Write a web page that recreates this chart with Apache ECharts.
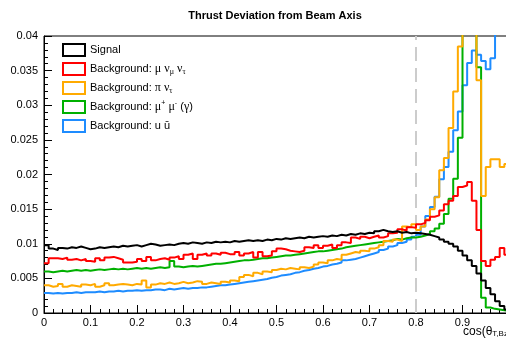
<!DOCTYPE html>
<html><head><meta charset="utf-8">
<script src="https://cdn.jsdelivr.net/npm/echarts@6/dist/echarts.min.js"></script>
<style>html,body{margin:0;padding:0;background:#fff;overflow:hidden}#c{width:506px;height:338px}</style>
</head><body><div id="c"></div>
<script>
// bin edges: 100 bins of width 0.01 from 0 to 1
const binWidth = 0.01;
const signal = [0.0098,0.0093,0.0091,0.0094,0.0093,0.0095,0.0094,0.0096,0.0094,0.0092,
0.0093,0.0095,0.0094,0.0095,0.0096,0.0095,0.0097,0.0096,0.0097,0.0098,
0.0096,0.0098,0.0100,0.0099,0.0097,0.0098,0.0099,0.0098,0.0100,0.0101,
0.0100,0.0102,0.0101,0.0100,0.0102,0.0101,0.0103,0.0102,0.0103,0.0102,
0.0104,0.0103,0.0104,0.0105,0.0104,0.0105,0.0104,0.0106,0.0105,0.0107,
0.0106,0.0108,0.0107,0.0108,0.0109,0.0108,0.0110,0.0109,0.0110,0.0111,
0.0110,0.0112,0.0111,0.0113,0.0112,0.0114,0.0113,0.0115,0.0114,0.0116,
0.0115,0.0118,0.0120,0.0118,0.0117,0.0118,0.0116,0.0117,0.0115,0.0116,
0.0115,0.0114,0.0113,0.0111,0.0109,0.0106,0.0103,0.0100,0.0096,0.0090,
0.0083,0.0076,0.0068,0.0057,0.0047,0.0036,0.0027,0.0017,0.0010,0.0005];
const bgMuNuNu = [0.0072,0.0079,0.0079,0.0078,0.0080,0.0077,0.0078,0.0076,0.0078,0.0075,
0.0074,0.0079,0.0076,0.0080,0.0081,0.0079,0.0077,0.0073,0.0073,0.0074,
0.0078,0.0075,0.0081,0.0076,0.0078,0.0079,0.0077,0.0080,0.0082,0.0078,
0.0084,0.0086,0.0078,0.0084,0.0086,0.0083,0.0086,0.0084,0.0087,0.0085,
0.0085,0.0088,0.0083,0.0086,0.0088,0.0080,0.0088,0.0082,0.0083,0.0089,
0.0093,0.0092,0.0090,0.0089,0.0088,0.0090,0.0095,0.0094,0.0098,0.0094,
0.0097,0.0099,0.0094,0.0098,0.0102,0.0101,0.0109,0.0107,0.0110,0.0108,
0.0110,0.0112,0.0109,0.0111,0.0115,0.0116,0.0121,0.0119,0.0124,0.0123,
0.0128,0.0130,0.0134,0.0139,0.0141,0.0148,0.0157,0.0162,0.0169,0.0182,
0.0184,0.0189,0.0162,0.0120,0.0075,0.0068,0.0077,0.0081,0.0094,0.0084];
const bgPiNu = [0.0040,0.0038,0.0039,0.0042,0.0038,0.0040,0.0039,0.0038,0.0041,0.0040,
0.0042,0.0038,0.0040,0.0043,0.0040,0.0041,0.0042,0.0041,0.0040,0.0042,
0.0041,0.0047,0.0037,0.0041,0.0043,0.0042,0.0044,0.0042,0.0043,0.0045,
0.0043,0.0044,0.0046,0.0045,0.0042,0.0044,0.0043,0.0042,0.0045,0.0044,
0.0047,0.0046,0.0052,0.0055,0.0053,0.0058,0.0056,0.0060,0.0059,0.0062,
0.0064,0.0063,0.0065,0.0064,0.0063,0.0066,0.0065,0.0067,0.0070,0.0073,
0.0072,0.0076,0.0078,0.0077,0.0084,0.0086,0.0088,0.0087,0.0090,0.0089,
0.0093,0.0095,0.0098,0.0104,0.0103,0.0106,0.0104,0.0125,0.0124,0.0128,
0.0120,0.0125,0.0135,0.0150,0.0167,0.0206,0.0224,0.0267,0.0320,0.0385,
0.0450,0.0450,0.0450,0.0336,0.0169,0.0211,0.0222,0.0222,0.0211,0.0215];
const bgMuMu = [0.0060,0.0059,0.0060,0.0061,0.0060,0.0061,0.0062,0.0061,0.0062,0.0061,
0.0062,0.0063,0.0062,0.0063,0.0064,0.0063,0.0064,0.0063,0.0064,0.0065,
0.0064,0.0065,0.0064,0.0065,0.0066,0.0065,0.0066,0.0075,0.0067,0.0066,
0.0067,0.0068,0.0067,0.0068,0.0069,0.0070,0.0071,0.0071,0.0072,0.0073,
0.0074,0.0075,0.0076,0.0076,0.0077,0.0078,0.0079,0.0079,0.0080,0.0081,
0.0082,0.0083,0.0083,0.0084,0.0085,0.0086,0.0087,0.0088,0.0089,0.0089,
0.0090,0.0091,0.0092,0.0093,0.0095,0.0096,0.0097,0.0098,0.0099,0.0100,
0.0101,0.0102,0.0103,0.0104,0.0105,0.0107,0.0106,0.0108,0.0109,0.0109,
0.0110,0.0112,0.0114,0.0118,0.0122,0.0129,0.0143,0.0165,0.0194,0.0253,
0.0450,0.0450,0.0450,0.0355,0.0022,0.0008,0.0006,0.0005,0.0004,0.0003];
const bgUU = [0.0029,0.0028,0.0029,0.0028,0.0029,0.0029,0.0030,0.0029,0.0030,0.0030,
0.0030,0.0031,0.0030,0.0031,0.0031,0.0032,0.0031,0.0032,0.0032,0.0033,
0.0032,0.0033,0.0033,0.0034,0.0034,0.0033,0.0035,0.0034,0.0035,0.0036,
0.0035,0.0036,0.0036,0.0037,0.0037,0.0038,0.0039,0.0040,0.0040,0.0041,
0.0042,0.0043,0.0044,0.0045,0.0046,0.0047,0.0048,0.0049,0.0051,0.0052,
0.0054,0.0055,0.0056,0.0058,0.0059,0.0061,0.0062,0.0064,0.0065,0.0067,
0.0068,0.0070,0.0071,0.0073,0.0076,0.0077,0.0078,0.0080,0.0082,0.0084,
0.0086,0.0088,0.0091,0.0093,0.0096,0.0098,0.0101,0.0103,0.0106,0.0110,
0.0113,0.0125,0.0140,0.0153,0.0168,0.0193,0.0211,0.0233,0.0264,0.0291,
0.0329,0.0361,0.0379,0.0373,0.0364,0.0352,0.0368,0.0450,0.0450,0.0450];
const cutValue = 0.8;
const xTicks = ['0','0.1','0.2','0.3','0.4','0.5','0.6','0.7','0.8','0.9'];

const names = ['Signal','Background: mununu','Background: pinu','Background: mumu','Background: uu'];
const labels = {
  'Signal': 'Signal',
  'Background: mununu': 'Background: {g|μ} {g|ν}{sub|μ} {g|ν}{sub|τ}',
  'Background: pinu': 'Background: {g|π} {g|ν}{sub|τ}',
  'Background: mumu': 'Background: {g|μ}{sup|+} {g|μ}{sup|-} ({g|γ})',
  'Background: uu': 'Background: u ū'
};
const colors = ['#000000','#ff0000','#ffaa00','#00b000','#1e8cff'];
const datasets = [signal, bgMuNuNu, bgPiNu, bgMuMu, bgUU];

function toSteps(vals){
  const pts = vals.map((v,i)=>[+(i*binWidth).toFixed(2), v]);
  pts.push([1, vals[vals.length-1]]);
  return pts;
}

const series = datasets.map((d,k)=>({
  name: names[k], type:'line', step:'end', symbol:'none', clip:true,
  data: toSteps(d), lineStyle:{color:colors[k], width:2}, itemStyle:{color:colors[k]},
  z: 5 - k, animation:false
}));
series.push({
  name:'cut', type:'line', symbol:'none', silent:true, animation:false,
  data:[[cutValue,0],[cutValue,0.04]],
  lineStyle:{color:'#cccccc', width:2, type:[14,7]}, z:1
});

const chart = echarts.init(document.getElementById('c'), null, {renderer:'canvas'});
const font = 'Liberation Sans';
chart.setOption({
  animation:false,
  backgroundColor:'#ffffff',
  title:{text:'Thrust Deviation from Beam Axis', left:270, top:5, textAlign:'center',
    textStyle:{fontFamily:font, fontSize:11, fontWeight:'bold', color:'#000'}},
  grid:{left:44, width:465, top:36, height:277, show:true, borderColor:'#000', borderWidth:1,
    backgroundColor:'transparent', containLabel:false, outerBoundsMode:'none'},
  legend:{
    data: names.map((n,k)=>({name:n, itemStyle:{color:'transparent', borderColor:colors[k], borderWidth:2}})),
    orient:'vertical', left:62, top:43, itemWidth:22, itemHeight:12, itemGap:5, icon:'rect', padding:0,
    selectedMode:false,
    formatter: n => labels[n],
    textStyle:{fontFamily:font, fontSize:11, color:'#000', lineHeight:14,
      rich:{
        g:{fontFamily:'Liberation Serif', fontSize:12, color:'#000', lineHeight:14},
        sub:{fontFamily:'Liberation Serif', fontSize:8, color:'#000', lineHeight:5, verticalAlign:'bottom'},
        sup:{fontFamily:font, fontSize:7, color:'#000', lineHeight:6, verticalAlign:'top'}
      }}
  },
  xAxis:{type:'value', min:0, max:1, interval:0.1,
    axisLine:{lineStyle:{color:'#000', width:1}},
    axisTick:{inside:true, length:8, lineStyle:{color:'#000'}},
    minorTick:{show:true, splitNumber:5, length:4, lineStyle:{color:'#000'}},
    splitLine:{show:false},
    axisLabel:{fontFamily:font, fontSize:11, color:'#000', margin:4,
      formatter: v => { const i = Math.round(v*10); return i < xTicks.length ? xTicks[i] : ''; }}
  },
  yAxis:{type:'value', min:0, max:0.04, interval:0.005,
    axisLine:{lineStyle:{color:'#000', width:1}},
    axisTick:{inside:true, length:8, lineStyle:{color:'#000'}},
    minorTick:{show:true, splitNumber:5, length:4, lineStyle:{color:'#000'}},
    splitLine:{show:false},
    axisLabel:{fontFamily:font, fontSize:11, color:'#000', margin:6,
      formatter: v => v===0 ? '0' : String(+v.toFixed(3))}
  },
  graphic:[{type:'text', left:463, top:326,
    style:{text:'cos(θ{sub|T,Bz})', font:'12px Liberation Sans', fill:'#000',
      rich:{sub:{fontSize:8, fontFamily:font, fill:'#000', lineHeight:6, verticalAlign:'bottom'}}}}],
  series: series
});
</script></body></html>
